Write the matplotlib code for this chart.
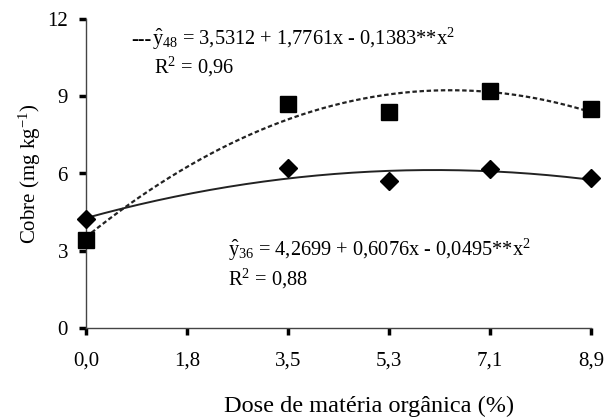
import matplotlib
matplotlib.use('Agg')
import matplotlib.pyplot as plt
import numpy as np

plt.rcParams['font.family'] = 'Liberation Serif'
plt.rcParams['mathtext.fontset'] = 'custom'
plt.rcParams['mathtext.rm'] = 'Liberation Serif'
plt.rcParams['mathtext.it'] = 'Liberation Serif:italic'

# doses de matéria orgânica (%) and observed copper (mg/kg)
doses = [0.0, 3.56, 5.34, 7.12, 8.9]
cobre_48 = [3.4, 8.7, 8.4, 9.22, 8.5]
cobre_36 = [4.25, 6.2, 5.72, 6.18, 5.83]

# quadratic fits: b0, b1, b2
coef_48 = (3.5312, 1.7761, -0.1383)
coef_36 = (4.2699, 0.6076, -0.0495)

tick_pos = [0.0, 1.78, 3.56, 5.34, 7.12, 8.9]
tick_labels = ['0,0', '1,8', '3,5', '5,3', '7,1', '8,9']

W, H = 605, 419
fig = plt.figure(figsize=(W / 100, H / 100), dpi=100)
ax = fig.add_axes([86 / W, 1 - 328 / H, (591 - 86) / W, (328 - 19) / H])

xs = np.linspace(0, 8.9, 200)
ax.plot(xs, coef_48[0] + coef_48[1] * xs + coef_48[2] * xs ** 2,
        color='#222222', lw=1.6, ls=(0, (2.0, 1.2)), clip_on=False)
ax.plot(xs, coef_36[0] + coef_36[1] * xs + coef_36[2] * xs ** 2,
        color='#222222', lw=1.4, clip_on=False)

ax.plot(doses, cobre_48, 's', color='black', ms=11.5, clip_on=False, zorder=5)
ax.plot(doses, cobre_36, 'D', color='black', ms=9.5, clip_on=False, zorder=5)

ax.set_xlim(0, 8.9)
ax.set_ylim(0, 12)
ax.set_xticks(tick_pos)
ax.set_xticklabels(tick_labels)
ax.set_yticks([0, 3, 6, 9, 12])
ax.spines['top'].set_visible(False)
ax.spines['right'].set_visible(False)
for s in ['left', 'bottom']:
    ax.spines[s].set_color('#444444')
    ax.spines[s].set_linewidth(1.0)
ax.tick_params(direction='out', length=5, width=2.5, color='black',
               labelsize=15, pad=8)
ax.tick_params(axis='x', pad=12)

ax.set_xlabel('Dose de matéria orgânica (%)', fontsize=17.5)
ax.xaxis.set_label_coords(0.56, -0.22)
ax.set_ylabel('Cobre (mg kg$^{-1}$)', fontsize=15)
ax.yaxis.set_label_coords(-0.085, 0.5)

def px(x, y):
    return x / W, 1 - y / H

fig.text(*px(131, 45), '---', fontsize=14.5, fontweight='bold', va='baseline')
fig.text(*px(152, 45), r'$\hat{\mathrm{y}}_{48}$ = 3,5312 + 1,7761x - 0,1383**x$^{2}$',
         fontsize=14.7, va='baseline')
fig.text(*px(154, 73), r'R$^{2}$ = 0,96', fontsize=14.7, va='baseline')
fig.text(*px(228, 256), r'$\hat{\mathrm{y}}_{36}$ = 4,2699 + 0,6076x - 0,0495**x$^{2}$',
         fontsize=14.7, va='baseline')
fig.text(*px(228, 285), r'R$^{2}$ = 0,88', fontsize=14.7, va='baseline')

fig.savefig('out.png', dpi=100)
